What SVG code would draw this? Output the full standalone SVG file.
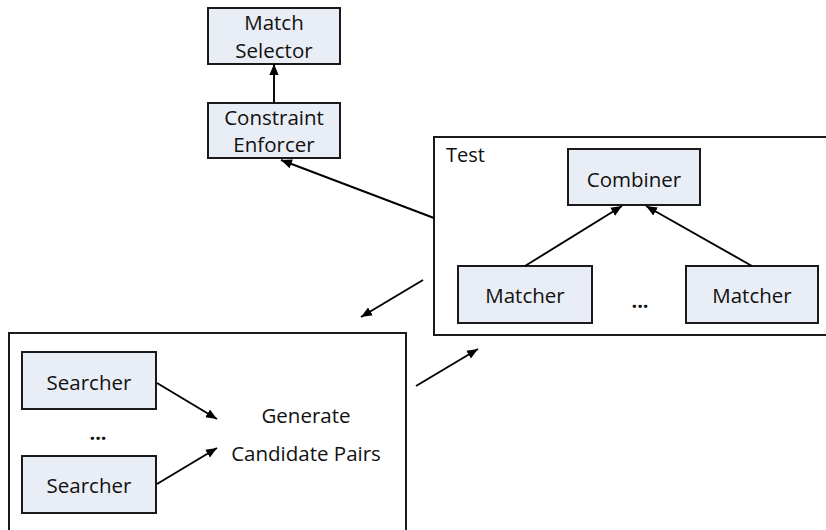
<svg xmlns="http://www.w3.org/2000/svg" width="826" height="530" viewBox="0 0 826 530">
  <defs>
    <marker id="arrow" viewBox="0 0 10 10" refX="10" refY="5" markerWidth="11" markerHeight="11" markerUnits="userSpaceOnUse" orient="auto">
      <path d="M0,0.8 L10,5 L0,9.2 Z" fill="#000"/>
    </marker>
    <style>
      .box { fill: #e9edf5; stroke: #1a1a1a; stroke-width: 2; }
      .frame { fill: #ffffff; stroke: #1a1a1a; stroke-width: 2; }
      .lbl { font-family: "Open Sans", "Liberation Sans", sans-serif; font-size: 20.5px; fill: #111; text-anchor: middle; }
      .cap { font-family: "Open Sans", "Liberation Sans", sans-serif; font-size: 20px; fill: #111; }
      .dots { font-family: "Open Sans", "Liberation Sans", sans-serif; font-size: 20px; font-weight: bold; fill: #111; text-anchor: middle; }
      .edge { stroke: #000; stroke-width: 1.9; fill: none; marker-end: url(#arrow); }
    </style>
  </defs>

  <!-- container: Test -->
  <g id="test">
    <rect class="frame" x="434" y="137" width="400" height="198"/>
    <text class="cap" x="446" y="162">Test</text>
  </g>

  <!-- container: candidate generation -->
  <g id="generate">
    <rect class="frame" x="9" y="333" width="397" height="210"/>
    <text class="lbl" x="306" y="423">Generate</text>
    <text class="lbl" x="306" y="461">Candidate Pairs</text>
    <text class="dots" x="98" y="440">...</text>
  </g>

  <g id="match-selector">
    <rect class="box" x="208" y="8" width="132" height="56"/>
    <text class="lbl" x="274" y="30">Match</text>
    <text class="lbl" x="274" y="58">Selector</text>
  </g>

  <g id="constraint-enforcer">
    <rect class="box" x="208" y="103" width="132" height="55"/>
    <text class="lbl" x="274" y="125">Constraint</text>
    <text class="lbl" x="274" y="152">Enforcer</text>
  </g>

  <g id="combiner">
    <rect class="box" x="568" y="149" width="132" height="56"/>
    <text class="lbl" x="634" y="187">Combiner</text>
  </g>

  <g id="matcher-1">
    <rect class="box" x="458" y="266" width="134" height="57"/>
    <text class="lbl" x="525" y="303">Matcher</text>
  </g>

  <g id="matcher-n">
    <rect class="box" x="686" y="266" width="132" height="57"/>
    <text class="lbl" x="752" y="303">Matcher</text>
  </g>

  <text class="dots" x="640" y="308">...</text>

  <g id="searcher-1">
    <rect class="box" x="22" y="352" width="134" height="57"/>
    <text class="lbl" x="89" y="390">Searcher</text>
  </g>

  <g id="searcher-n">
    <rect class="box" x="22" y="456" width="134" height="57"/>
    <text class="lbl" x="89" y="493">Searcher</text>
  </g>

  <g id="connectors">
    <line class="edge" x1="274" y1="103" x2="274" y2="64"/>
    <line class="edge" x1="434" y1="218" x2="281" y2="160"/>
    <line class="edge" x1="525" y1="266" x2="622" y2="206"/>
    <line class="edge" x1="752" y1="266" x2="646" y2="206"/>
    <line class="edge" x1="423" y1="280" x2="361" y2="317"/>
    <line class="edge" x1="157" y1="383" x2="217" y2="419"/>
    <line class="edge" x1="157" y1="484" x2="217" y2="448"/>
    <line class="edge" x1="416" y1="386" x2="478" y2="349"/>
  </g>
</svg>
